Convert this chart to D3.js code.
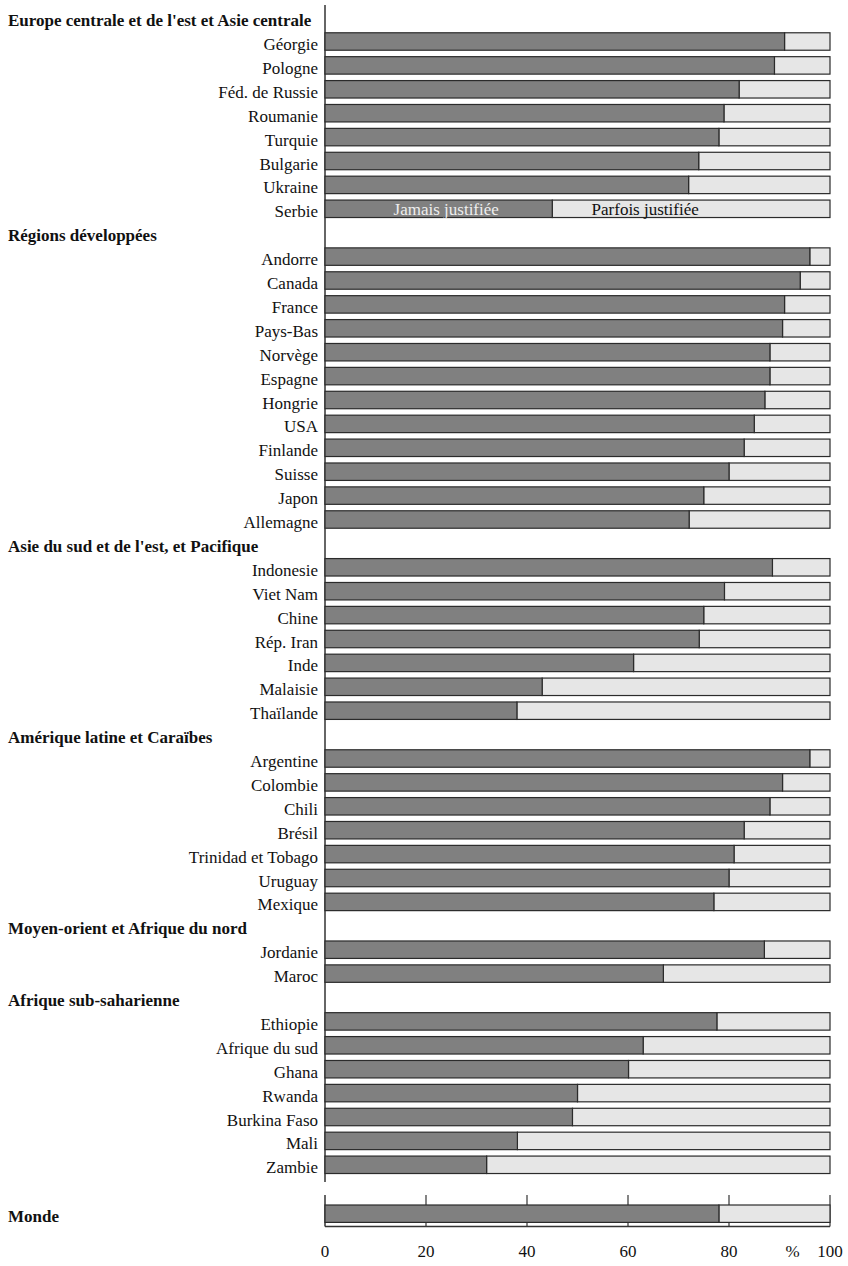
<!DOCTYPE html>
<html>
<head>
<meta charset="utf-8">
<script src="https://cdn.jsdelivr.net/npm/d3@7"></script>
<style>
  html, body { margin: 0; padding: 0; background: #fff; }
  svg { display: block; }
  text { font-family: "Liberation Serif", "DejaVu Serif", serif; }
</style>
</head>
<body>
<svg id="chart" width="848" height="1266"></svg>
<script>
// ---- Data ----
const regionNames = [
  "Europe centrale et de l'est et Asie centrale",
  "Régions développées",
  "Asie du sud et de l'est, et Pacifique",
  "Amérique latine et Caraïbes",
  "Moyen-orient et Afrique du nord",
  "Afrique sub-saharienne"
];
const europeCountries = ["Géorgie","Pologne","Féd. de Russie","Roumanie","Turquie","Bulgarie","Ukraine","Serbie"];
const europeValues    = [91, 89, 82, 79, 78, 74, 72, 45];
const developedCountries = ["Andorre","Canada","France","Pays-Bas","Norvège","Espagne","Hongrie","USA","Finlande","Suisse","Japon","Allemagne"];
const developedValues    = [96, 94.1, 91, 90.6, 88.1, 88.1, 87.1, 85, 83, 80, 75, 72.1];
const asiaCountries = ["Indonesie","Viet Nam","Chine","Rép. Iran","Inde","Malaisie","Thaïlande"];
const asiaValues    = [88.6, 79.1, 75, 74.1, 61.1, 43, 38];
const latamCountries = ["Argentine","Colombie","Chili","Brésil","Trinidad et Tobago","Uruguay","Mexique"];
const latamValues    = [96, 90.6, 88.1, 83, 81, 80, 77];
const menaCountries = ["Jordanie","Maroc"];
const menaValues    = [87, 67];
const africaCountries = ["Ethiopie","Afrique du sud","Ghana","Rwanda","Burkina Faso","Mali","Zambie"];
const africaValues    = [77.6, 63, 60.1, 50, 49, 38.1, 32];
const worldLabel = "Monde";
const worldValue = 78;
const seriesLabels = ["Jamais justifiée", "Parfois justifiée"];
const seriesLabelPos = [24, 63.4];   // x-values (in %) where the in-bar legend labels sit
const xTicks = [0, 20, 40, 60, 80, 100];
const unitLabel = "%";
const unitLabelPos = 92.6;

const groupCountries = [europeCountries, developedCountries, asiaCountries, latamCountries, menaCountries, africaCountries];
const groupValues = [europeValues, developedValues, asiaValues, latamValues, menaValues, africaValues];

// ---- Rows ----
const rows = [];
regionNames.forEach((g, gi) => {
  rows.push({ id: "h" + gi, type: "header", label: g });
  groupCountries[gi].forEach((c, ci) => {
    rows.push({ id: "c" + gi + "_" + ci, type: "bar", label: c, value: groupValues[gi][ci] });
  });
});

// ---- Layout ----
const svg = d3.select("#chart");
const left = 325, right = 830;
const x = d3.scaleLinear().domain([0, 100]).range([left, right]);
const y = d3.scaleBand()
  .domain(rows.map(d => d.id))
  .range([5.65, 1176.75])
  .paddingInner(0.27)
  .paddingOuter(0.135);
const bw = y.bandwidth();

const darkFill = "#808080", lightFill = "#e6e6e6", strokeCol = "#2b2b2b";
const fontSize = 17;

// main vertical axis line
svg.append("line")
  .attr("x1", left).attr("x2", left)
  .attr("y1", 5).attr("y2", 1182)
  .attr("stroke", "#333").attr("stroke-width", 1.5);

const barRows = rows.filter(d => d.type === "bar");

const g = svg.append("g");
const rg = g.selectAll("g.row").data(barRows).join("g").attr("class", "row");

rg.append("rect")
  .attr("x", d => x(d.value)).attr("y", d => y(d.id))
  .attr("width", d => x(100) - x(d.value)).attr("height", bw)
  .attr("fill", lightFill).attr("stroke", strokeCol).attr("stroke-width", 1.2);
rg.append("rect")
  .attr("x", x(0)).attr("y", d => y(d.id))
  .attr("width", d => x(d.value) - x(0)).attr("height", bw)
  .attr("fill", darkFill).attr("stroke", strokeCol).attr("stroke-width", 1.2);

// country labels
svg.selectAll("text.country").data(barRows).join("text")
  .attr("class", "country")
  .attr("x", 318)
  .attr("y", d => y(d.id) + bw / 2 + 8.5)
  .attr("text-anchor", "end")
  .attr("font-size", fontSize)
  .attr("fill", "#111")
  .text(d => d.label);

// region headers
svg.selectAll("text.header").data(rows.filter(d => d.type === "header")).join("text")
  .attr("class", "header")
  .attr("x", 8)
  .attr("y", d => y(d.id) + bw / 2 + 8.5)
  .attr("font-size", fontSize)
  .attr("font-weight", "bold")
  .attr("fill", "#111")
  .text(d => d.label);

// in-bar legend labels on last bar of first group (Serbie)
const serbieRow = barRows.find(d => d.label === europeCountries[europeCountries.length - 1]);
svg.append("text")
  .attr("x", x(seriesLabelPos[0])).attr("y", y(serbieRow.id) + bw / 2 + 6)
  .attr("text-anchor", "middle").attr("font-size", fontSize)
  .attr("fill", "#eeeeee").text(seriesLabels[0]);
svg.append("text")
  .attr("x", x(seriesLabelPos[1])).attr("y", y(serbieRow.id) + bw / 2 + 6)
  .attr("text-anchor", "middle").attr("font-size", fontSize)
  .attr("fill", "#111").text(seriesLabels[1]);

// ---- World panel ----
const panelTop = 1195, panelBottom = 1226.5;

// ticks (behind bar)
svg.selectAll("line.tick").data(xTicks).join("line")
  .attr("class", "tick")
  .attr("x1", d => x(d)).attr("x2", d => x(d))
  .attr("y1", panelTop).attr("y2", panelBottom)
  .attr("stroke", "#333").attr("stroke-width", d => d === 0 ? 1.5 : 1.2);

const wTop = 1205, wH = 17.4;
svg.append("rect")
  .attr("x", x(worldValue)).attr("y", wTop)
  .attr("width", x(100) - x(worldValue)).attr("height", wH)
  .attr("fill", lightFill).attr("stroke", strokeCol).attr("stroke-width", 1.2);
svg.append("rect")
  .attr("x", x(0)).attr("y", wTop)
  .attr("width", x(worldValue) - x(0)).attr("height", wH)
  .attr("fill", darkFill).attr("stroke", strokeCol).attr("stroke-width", 1.2);

// bottom axis line
svg.append("line")
  .attr("x1", x(0)).attr("x2", x(100))
  .attr("y1", panelBottom).attr("y2", panelBottom)
  .attr("stroke", "#333").attr("stroke-width", 1.5);

svg.append("text")
  .attr("x", 8).attr("y", wTop + wH / 2 + 8.5)
  .attr("font-size", fontSize).attr("font-weight", "bold")
  .attr("fill", "#111").text(worldLabel);

// tick labels
svg.selectAll("text.tl").data(xTicks).join("text")
  .attr("class", "tl")
  .attr("x", d => x(d)).attr("y", 1257)
  .attr("text-anchor", "middle").attr("font-size", fontSize)
  .attr("fill", "#111").text(d => d);
svg.append("text")
  .attr("x", x(unitLabelPos)).attr("y", 1257)
  .attr("text-anchor", "middle").attr("font-size", fontSize)
  .attr("fill", "#111").text(unitLabel);
</script>
</body>
</html>
